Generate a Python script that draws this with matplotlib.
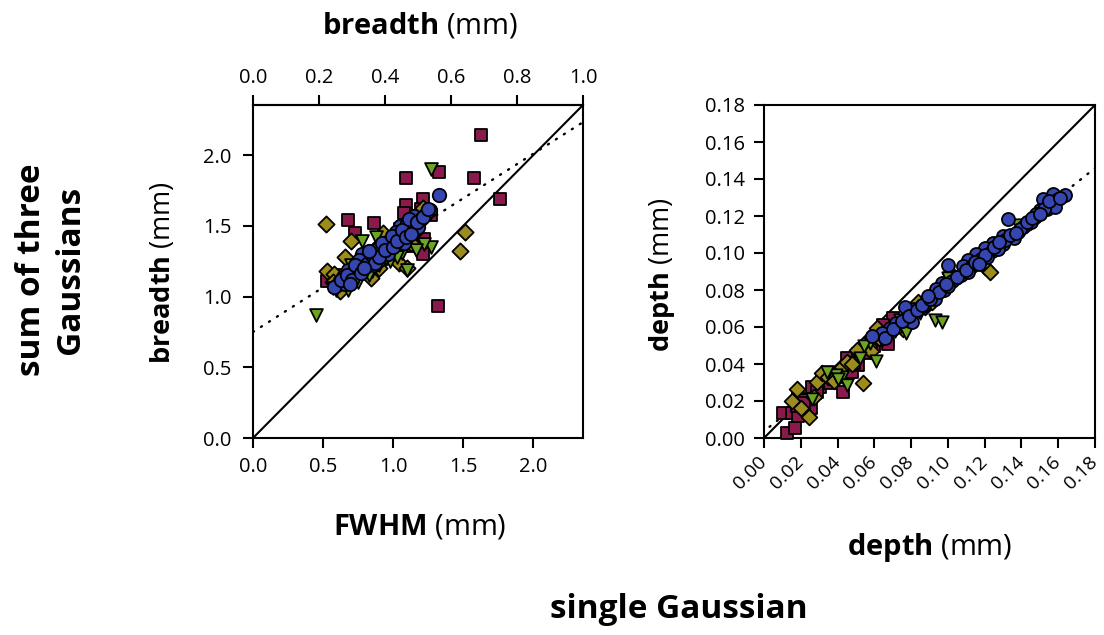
import matplotlib
matplotlib.use("Agg")
import matplotlib.pyplot as plt
import numpy as np

plt.rcParams['font.family'] = ['Open Sans', 'DejaVu Sans']
plt.rcParams['mathtext.fontset'] = 'custom'
plt.rcParams['mathtext.rm'] = 'Open Sans'
plt.rcParams['mathtext.bf'] = 'Open Sans:bold'

# ---------------- data: left panel (FWHM vs breadth) ----------------
maroon_L_x = [1.63, 1.33, 1.09, 1.58, 1.76, 1.21, 1.09, 0.68, 0.86, 0.73, 1.08, 1.22, 1.21,
              1.32, 0.53, 1.11, 1.27, 1.20, 1.05, 0.95, 0.62, 0.80,
              0.75, 0.90, 1.00, 1.13, 0.65]
maroon_L_y = [2.14, 1.88, 1.84, 1.84, 1.69, 1.69, 1.65, 1.54, 1.52, 1.45, 1.59, 1.41, 1.30,
              0.93, 1.11, 1.36, 1.58, 1.62, 1.48, 1.33, 1.15, 1.27,
              1.20, 1.28, 1.36, 1.45, 1.12]
olive_L_x = [0.52, 1.51, 1.48, 0.70, 0.87, 0.93, 1.09, 1.04, 0.53, 0.58, 0.66, 0.84, 1.21,
             0.60, 0.75, 0.98, 1.15, 0.64, 0.90, 1.10,
             0.62, 0.72, 0.80, 0.95, 1.01, 1.13, 0.57, 0.68]
olive_L_y = [1.51, 1.46, 1.32, 1.39, 1.34, 1.45, 1.41, 1.24, 1.18, 1.16, 1.28, 1.13, 1.63,
             1.08, 1.22, 1.30, 1.45, 1.12, 1.20, 1.20,
             1.04, 1.16, 1.19, 1.28, 1.32, 1.38, 1.10, 1.10]
green_L_x = [1.27, 0.45, 1.10, 1.27, 1.22, 1.16, 0.78, 0.98, 0.59, 0.68, 0.81, 0.88, 1.06,
             0.70, 0.62, 0.93, 1.03, 0.72, 0.85, 1.13,
             0.65, 0.75, 0.90, 1.00, 1.08, 0.57, 0.83, 0.95]
green_L_y = [1.90, 0.87, 1.19, 1.35, 1.37, 1.33, 1.39, 1.25, 1.05, 1.05, 1.24, 1.42, 1.31,
             1.22, 1.09, 1.30, 1.28, 1.14, 1.18, 1.42,
             1.12, 1.10, 1.22, 1.35, 1.38, 1.06, 1.15, 1.27]
blue_L_x = [1.33, 1.26, 1.23, 1.15, 1.05, 1.15, 1.01, 0.97, 0.91, 0.78, 0.75, 0.66, 0.85,
            0.89, 0.70, 0.62, 1.14, 1.07, 0.95, 1.20, 1.10, 1.02, 0.98, 0.93, 0.88, 0.82,
            0.80, 0.76, 0.72, 0.68, 0.64, 0.60, 1.18, 1.12, 1.08, 0.96, 0.86, 0.74, 0.66, 1.24,
            0.58, 0.63, 0.67, 0.71, 0.73, 0.77, 0.81, 0.84, 0.87, 0.90, 0.92, 0.94, 0.99,
            1.00, 1.03, 1.06, 1.09, 1.11, 1.13, 1.17, 1.21, 1.25, 0.69, 0.79, 0.83]
blue_L_y = [1.72, 1.61, 1.58, 1.57, 1.50, 1.47, 1.41, 1.35, 1.31, 1.30, 1.23, 1.12, 1.28,
            1.25, 1.19, 1.10, 1.50, 1.43, 1.37, 1.55, 1.52, 1.46, 1.40, 1.36, 1.33, 1.27,
            1.21, 1.26, 1.16, 1.19, 1.14, 1.08, 1.49, 1.46, 1.38, 1.30, 1.22, 1.18, 1.09, 1.60,
            1.07, 1.12, 1.15, 1.12, 1.22, 1.17, 1.23, 1.30, 1.24, 1.28, 1.38, 1.33, 1.43,
            1.35, 1.39, 1.47, 1.42, 1.55, 1.44, 1.53, 1.56, 1.62, 1.09, 1.20, 1.32]
fit_L_intercept = 0.75
fit_L_slope = 0.63
fwhm_factor = 2.355            # FWHM = 2.355 * breadth
left_ticks = [0.0, 0.5, 1.0, 1.5, 2.0]
top_ticks = [0.0, 0.2, 0.4, 0.6, 0.8, 1.0]

# ---------------- data: right panel (depth vs depth) ----------------
maroon_R_x = [0.0123, 0.0169, 0.0102, 0.0151, 0.0187, 0.0187, 0.0214, 0.0254, 0.0277, 0.0305,
              0.0322, 0.0259, 0.0428, 0.0477, 0.0513, 0.0453, 0.0513, 0.0676, 0.0703, 0.0649,
              0.0181, 0.0208, 0.0490, 0.0317, 0.022, 0.029, 0.036, 0.041, 0.056, 0.060]
maroon_R_y = [0.0029, 0.0052, 0.0134, 0.0134, 0.0119, 0.0215, 0.0178, 0.0160, 0.0241, 0.0277,
              0.0304, 0.0277, 0.0250, 0.0359, 0.0395, 0.0431, 0.0454, 0.0506, 0.0647, 0.0611,
              0.0173, 0.0205, 0.0404, 0.0313, 0.019, 0.025, 0.030, 0.034, 0.046, 0.050]
olive_R_x = [0.1202, 0.1229, 0.0540, 0.0178, 0.0154, 0.0247, 0.0504, 0.0422, 0.0625, 0.0712,
             0.0755, 0.0876, 0.0912, 0.0287, 0.0314, 0.0615, 0.0839, 0.1011, 0.0350, 0.0450,
             0.0570, 0.0680, 0.0800, 0.020, 0.027, 0.038, 0.048, 0.058, 0.066, 0.074, 0.078]
olive_R_y = [0.0922, 0.0899, 0.0296, 0.0263, 0.0200, 0.0112, 0.0476, 0.0382, 0.0539, 0.0602,
             0.0589, 0.0710, 0.0737, 0.0304, 0.0350, 0.0593, 0.0737, 0.0890, 0.0330, 0.0410,
             0.0500, 0.0580, 0.0680, 0.016, 0.022, 0.031, 0.040, 0.047, 0.055, 0.061, 0.064]
green_R_x = [0.0930, 0.0970, 0.0607, 0.0453, 0.0422, 0.0350, 0.0848, 0.0740, 0.0772, 0.0576,
             0.0676, 0.1002, 0.1383, 0.0939, 0.0884, 0.0546, 0.0646, 0.0392, 0.0344, 0.0450,
             0.026, 0.040, 0.052, 0.064, 0.071, 0.080, 0.088, 0.105]
green_R_y = [0.0638, 0.0629, 0.0416, 0.0292, 0.0331, 0.0355, 0.0674, 0.0638, 0.0566, 0.0512,
             0.0566, 0.0863, 0.1151, 0.0764, 0.0728, 0.0497, 0.0551, 0.0341, 0.0359, 0.0287,
             0.021, 0.032, 0.043, 0.053, 0.058, 0.065, 0.071, 0.087]
blue_R_x = [0.1637, 0.1573, 0.1515, 0.1564, 0.1500, 0.1474, 0.1428, 0.1329, 0.1383, 0.1301,
            0.1247, 0.1202, 0.1153, 0.1108, 0.1081, 0.1002, 0.1042, 0.0966, 0.0935, 0.0884,
            0.0816, 0.0767, 0.0803, 0.0685, 0.0640, 0.1600, 0.1540, 0.1410, 0.1360, 0.1300,
            0.1240, 0.1180, 0.1130, 0.1070, 0.1020, 0.0980, 0.0930, 0.0870, 0.1450, 0.1480,
            0.1580, 0.1270, 0.1210, 0.1110, 0.0720, 0.0590,
            0.066, 0.070, 0.075, 0.079, 0.083, 0.086, 0.090, 0.095, 0.100, 0.105, 0.110,
            0.115, 0.120, 0.125, 0.131, 0.134, 0.139, 0.143, 0.146, 0.152, 0.155, 0.161,
            0.089, 0.099, 0.117, 0.128, 0.137, 0.150]
blue_R_y = [0.1314, 0.1317, 0.1290, 0.1269, 0.1232, 0.1196, 0.1157, 0.1182, 0.1115, 0.1092,
            0.1052, 0.1025, 0.0995, 0.0962, 0.0931, 0.0935, 0.0863, 0.0836, 0.0804, 0.0746,
            0.0696, 0.0710, 0.0629, 0.0593, 0.0566, 0.1290, 0.1240, 0.1140, 0.1080, 0.1050,
            0.1010, 0.0970, 0.0930, 0.0880, 0.0850, 0.0800, 0.0750, 0.0720, 0.1170, 0.1210,
            0.1250, 0.1020, 0.0980, 0.0900, 0.0620, 0.0550,
            0.054, 0.059, 0.063, 0.066, 0.069, 0.072, 0.075, 0.079, 0.082, 0.087, 0.091,
            0.095, 0.099, 0.103, 0.107, 0.110, 0.113, 0.117, 0.119, 0.124, 0.128, 0.130,
            0.077, 0.083, 0.094, 0.106, 0.111, 0.121]
fit_R_intercept = 0.0037
fit_R_slope = 0.79
right_ticks = [0.00, 0.02, 0.04, 0.06, 0.08, 0.10, 0.12, 0.14, 0.16, 0.18]

# ---------------- styles ----------------
C_MAROON = '#8a1a4c'
C_OLIVE = '#9c8c1e'
C_GREEN = '#6ea424'
C_BLUE = '#3546b0'
W, H = 1104, 635
TICK_FS = 14.5
LABEL_FS = 21

fig = plt.figure(figsize=(W / 100, H / 100), dpi=100)
axL = fig.add_axes([253 / W, 1 - 438 / H, 330 / W, 333 / H])
axR = fig.add_axes([764 / W, 1 - 438 / H, 331 / W, 333 / H])


def scatter_sets(ax, sets, size):
    for x, y, c, m, s in sets:
        ax.scatter(x, y, c=c, marker=m, s=s * size, edgecolors='black',
                   linewidths=1.3, zorder=3, clip_on=False)


def style_axes(ax):
    for sp in ax.spines.values():
        sp.set_linewidth(1.5)
    ax.tick_params(direction='out', length=7.5, width=1.5, labelsize=TICK_FS, pad=6)


def ftext(px, py, s, **kw):
    fig.text(px / W, 1 - py / H, s, ha='center', va='center', **kw)


# left panel
lim_L = fwhm_factor
scatter_sets(axL, [
    (maroon_L_x, maroon_L_y, C_MAROON, 's', 1.0),
    (olive_L_x, olive_L_y, C_OLIVE, 'D', 0.8),
    (green_L_x, green_L_y, C_GREEN, 'v', 1.0),
    (blue_L_x, blue_L_y, C_BLUE, 'o', 1.1),
], 85)
xx = np.array([0, lim_L])
axL.plot(xx, xx, color='black', lw=1.5, zorder=2)
axL.plot(xx, fit_L_intercept + fit_L_slope * xx, color='black', lw=1.7,
         linestyle=(0, (0.5, 3.5)), dash_capstyle='round', zorder=2)
axL.set_xlim(0, lim_L)
axL.set_ylim(0, lim_L)
axL.set_xticks(left_ticks)
axL.set_yticks(left_ticks)
axL.set_xticklabels([f"{t:.1f}" for t in left_ticks])
axL.set_yticklabels([f"{t:.1f}" for t in left_ticks])
style_axes(axL)
axL.tick_params(axis='y', pad=8)
secax = axL.secondary_xaxis('top', functions=(lambda v: v / fwhm_factor,
                                               lambda v: v * fwhm_factor))
secax.set_xticks(top_ticks)
secax.set_xticklabels([f"{t:.1f}" for t in top_ticks])
secax.tick_params(direction='out', length=7.5, width=1.5, labelsize=TICK_FS, pad=5)
secax.spines['top'].set_linewidth(1.5)

# right panel
scatter_sets(axR, [
    (maroon_R_x, maroon_R_y, C_MAROON, 's', 1.0),
    (olive_R_x, olive_R_y, C_OLIVE, 'D', 0.8),
    (green_R_x, green_R_y, C_GREEN, 'v', 1.0),
    (blue_R_x, blue_R_y, C_BLUE, 'o', 1.1),
], 80)
xr = np.array([0, 0.18])
axR.plot(xr, xr, color='black', lw=1.5, zorder=2)
xf = np.array([0.003, 0.18])
axR.plot(xf, fit_R_intercept + fit_R_slope * xf, color='black', lw=1.7,
         linestyle=(0, (0.5, 3.5)), dash_capstyle='round', zorder=2)
axR.set_xlim(0, 0.18)
axR.set_ylim(0, 0.18)
axR.set_xticks(right_ticks)
axR.set_yticks(right_ticks)
axR.set_xticklabels([f"{t:.2f}" for t in right_ticks], rotation=45, ha='right',
                    va='center', rotation_mode='anchor', fontsize=14)
axR.set_yticklabels([f"{t:.2f}" for t in right_ticks])
style_axes(axR)
axR.tick_params(axis='x', pad=8, labelsize=14)

# axis labels (bold quantity + regular unit)
ftext(420, 26, r"$\mathbf{breadth}$ (mm)", fontsize=LABEL_FS)
ftext(420, 527, r"$\mathbf{FWHM}$ (mm)", fontsize=LABEL_FS)
ftext(163, 273, r"$\mathbf{breadth}$ (mm)", fontsize=19.5, rotation=90)
ftext(930, 548, r"$\mathbf{depth}$ (mm)", fontsize=LABEL_FS)
ftext(662, 275, r"$\mathbf{depth}$ (mm)", fontsize=19.5, rotation=90)

# shared labels
ftext(51, 270, "sum of three\nGaussians", rotation=90, fontsize=24,
      fontweight='bold', linespacing=1.25)
ftext(679, 610, "single Gaussian", fontsize=24, fontweight='bold')

fig.savefig("out.png", dpi=100)
